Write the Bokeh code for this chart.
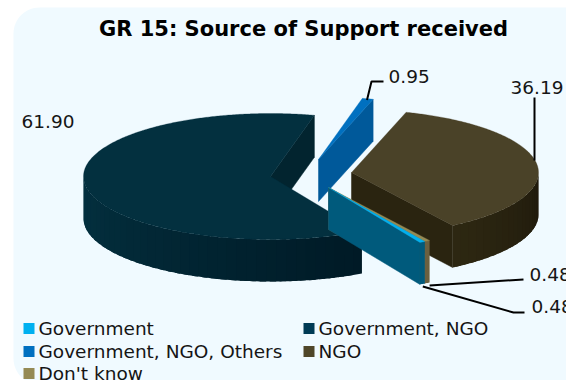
import numpy as np
from bokeh.core.properties import value
from bokeh.embed import file_html
from bokeh.models import Range1d
from bokeh.plotting import figure
from bokeh.resources import INLINE

# Survey shares, listed clockwise round the pie
categories = ["Government", "Government, NGO", "Government, NGO, Others", "NGO", "Don't know"]
shares = [0.48, 61.90, 0.95, 36.19, 0.48]
share_labels = ["0.48", "61.90", "0.95", "36.19", "0.48"]
title_text = "GR 15: Source of Support received"

# Face colours per slice: top, radial wall, rim at both ends of its sweep
top_colors = ["#00b0f0", "#03303f", "#0070c0", "#4a4228", "#948a54"]
wall_colors = ["#005a7c", "#02242f", "#00599a", "#2a2410", "#6b6040"]
rim_from = ["#005a7c", "#001a26", "#00599a", "#1f1a0c", "#6b6040"]
rim_to = ["#005a7c", "#03303f", "#00599a", "#2e2812", "#6b6040"]
legend_colors = ["#00b0f0", "#003b55", "#0070c0", "#4f4629", "#948a54"]

# Projection of the tilted disc, in page pixels
RX, RY = 187.0, 63.0
DEPTH = 42.0
FIRST_ANGLE = 59.0
centers = [(328, 187), (270, 176), (318, 159), (351, 172), (328, 187)]
paint_order = [1, 2, 3, 4, 0]

BG = "#f0faff"
FONT = value("DejaVu Sans")
TEXT_COLOR = "#151515"

p = figure(width=566, height=380, output_backend="svg", toolbar_location=None,
           x_range=Range1d(0, 566), y_range=Range1d(380, 0),
           min_border=0, outline_line_color=None, border_fill_color="white",
           background_fill_color="white")
p.axis.visible = False
p.grid.visible = False

# Rounded panel running off the right and bottom edges of the page
arc = np.radians(np.linspace(0, 90, 16))
panel_x0, panel_y0, panel_y1, panel_r = 13, 7, 384, 26
px = np.r_[[570, 570], panel_x0 + panel_r - panel_r * np.sin(arc), panel_x0 + panel_r - panel_r * np.cos(arc)]
py = np.r_[[panel_y1, panel_y0], panel_y0 + panel_r - panel_r * np.cos(arc), panel_y1 - panel_r + panel_r * np.sin(arc)]
p.patch(px, py, fill_color=BG, line_color=None)


def mix(a, b, f):
    ca = [int(a[i:i + 2], 16) for i in (1, 3, 5)]
    cb = [int(b[i:i + 2], 16) for i in (1, 3, 5)]
    return "#%02x%02x%02x" % tuple(round(u + (v - u) * f) for u, v in zip(ca, cb))


def rim_point(c, deg):
    t = np.radians(deg)
    return c[0] + RX * np.cos(t), c[1] + RY * np.sin(t)


# Angular sweep of every slice follows from its share
sweeps = [s / sum(shares) * 360 for s in shares]
starts = [FIRST_ANGLE + sum(sweeps[:i]) for i in range(len(shares))]


def draw_wall(i, a):
    c = centers[i]
    ex, ey = rim_point(c, a)
    p.patch([c[0], ex, ex, c[0]], [c[1], ey, ey + DEPTH, c[1] + DEPTH],
            fill_color=wall_colors[i], line_color=wall_colors[i], line_width=0.5)


def draw_rim(i, s, e):
    c = centers[i]
    n = max(1, int((e - s) / 3))
    edges = np.linspace(s, e, n + 1)
    for k in range(n):
        # each band runs under the next one so no seams show between them
        stop = min(e, edges[k + 1] + 2)
        ang = np.linspace(edges[k], stop, 6)
        xs = np.array([rim_point(c, v)[0] for v in ang])
        ys = np.array([rim_point(c, v)[1] for v in ang])
        col = mix(rim_from[i], rim_to[i], min(1, (edges[k] - s) / max(1e-6, min(e - s, 110))))
        p.patch(np.r_[xs, xs[::-1]], np.r_[ys, ys[::-1] + DEPTH], fill_color=col, line_color=None)


def draw_slice(i):
    c = centers[i]
    a0, a1 = starts[i], starts[i] + sweeps[i]
    # A radial wall shows when it faces the viewer's side of the disc
    if np.cos(np.radians(a1)) > 0:
        draw_wall(i, a1)
    if np.cos(np.radians(a0)) < 0:
        draw_wall(i, a0)
    # Only the near half of the outer rim shows
    for base in (0, 360):
        s, e = max(a0, base), min(a1, base + 180)
        if e > s:
            draw_rim(i, s, e)
    ang = np.linspace(a0, a1, max(3, int(sweeps[i] * 2)))
    xs = [rim_point(c, v)[0] for v in ang]
    ys = [rim_point(c, v)[1] for v in ang]
    p.patch([c[0], *xs], [c[1], *ys], fill_color=top_colors[i], line_color=top_colors[i], line_width=0.3)


for i in paint_order:
    draw_slice(i)

# Leader lines run from a slice's rim through an elbow to its label
blue_tip = rim_point(centers[2], starts[2] + sweeps[2] * 0.8)
leaders = [
    ([blue_tip[0] - 4, 371, 383], [blue_tip[1] + 1, 81, 81]),
    ([534, 534], [97, 160]),
    ([rim_point(centers[4], starts[4])[0], 523], [285, 279]),
    ([rim_point(centers[0], starts[0])[0] - 2, 513, 524], [286, 312, 312]),
]
for xs, ys in leaders:
    p.line(xs, ys, line_color="black", line_width=2)

# Value labels
label_x = [529, 21, 388, 510, 531]
label_y = [274, 121, 76, 87, 306]
p.text(label_x, label_y, text=share_labels, text_font_size="18.5px", text_font=FONT,
       text_color=TEXT_COLOR, text_baseline="middle", text_align="left")

p.text([303], [28], text=[title_text], text_font_size="21px", text_font=FONT,
       text_font_style="bold", text_color="black", text_baseline="middle", text_align="center")

# Legend, laid out in two columns
legend_x = [23, 303, 23, 303, 23]
legend_y = [328, 328, 351, 351, 373]
p.scatter([x + 5.5 for x in legend_x], legend_y, marker="square", size=11,
          fill_color=legend_colors, line_color=None)
p.text([x + 15 for x in legend_x], legend_y, text=categories, text_font_size="18.5px",
       text_font=FONT, text_color=TEXT_COLOR, text_baseline="middle", text_align="left")

open("out.html", "w").write(file_html(p, INLINE))
